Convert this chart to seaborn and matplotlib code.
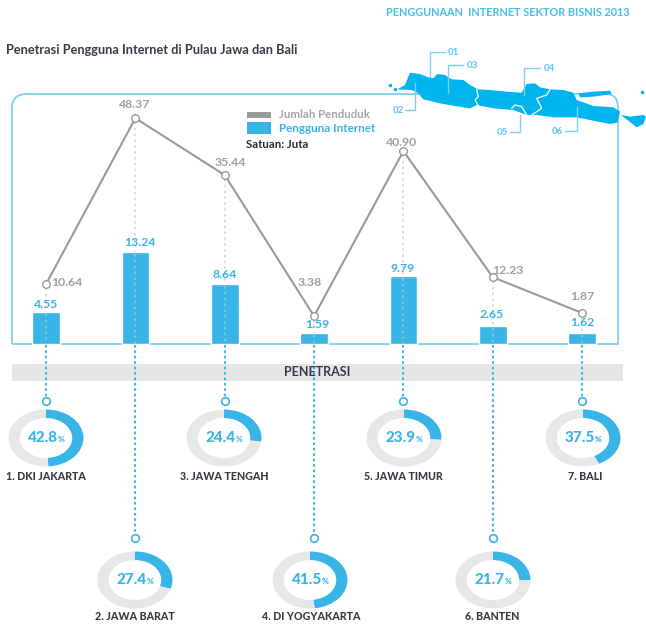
import numpy as np
import pandas as pd
import matplotlib.pyplot as plt
from matplotlib.patches import PathPatch, Polygon, Rectangle
from matplotlib.path import Path
import seaborn as sns

# data read from the infographic
provinsi = ['1. DKI JAKARTA', '2. JAWA BARAT', '3. JAWA TENGAH', '4. DI YOGYAKARTA',
            '5. JAWA TIMUR', '6. BANTEN', '7. BALI']
pengguna = [4.55, 13.24, 8.64, 1.59, 9.79, 2.65, 1.62]
penduduk = [10.64, 48.37, 35.44, 3.38, 40.90, 12.23, 1.87]
# the Bali point sits higher in the picture than its label says
penduduk_digambar = [10.64, 48.37, 35.44, 3.38, 40.90, 12.23, 4.1]
penetrasi = [42.8, 27.4, 24.4, 41.5, 23.9, 21.7, 37.5]
# share of the ring coloured in the picture (not the same as the label)
busur = [0.49, 0.30, 0.27, 0.48, 0.26, 0.25, 0.43]
map_labels = ['01', '02', '03', '04', '05', '06']

W, H = 646, 625
BIRU = '#39b4e6'
BIRU_MUDA = '#7fd0ee'
BIRU_PETA = '#00b5ee'
ABU = '#9a9a9a'
GELAP = '#3a3a44'

sns.set_theme(style='white')
plt.rcParams['font.family'] = ['Lato', 'DejaVu Sans']

fig = plt.figure(figsize=(W / 100, H / 100), dpi=100)


def full_axes(zorder):
    a = fig.add_axes([0, 0, 1, 1], zorder=zorder)
    a.set_axis_off()
    return a


def px_axes(zorder):
    a = full_axes(zorder)
    a.set_xlim(0, W)
    a.set_ylim(H, 0)
    return a


X0, DX = 46, 89.35  # pixel x of first category, spacing
x_px = [X0 + DX * i for i in range(7)]
xlim_cat = (-X0 / DX, (W - X0) / DX)

back = px_axes(0)
front = px_axes(5)

# frame (square at the bottom, rounded at the top) and band
kotak = Path([(12, 344), (12, 108), (12, 94), (27, 94), (606, 94), (618, 94), (618, 108),
              (618, 344), (12, 344)],
             [Path.MOVETO, Path.LINETO, Path.CURVE3, Path.CURVE3, Path.LINETO, Path.CURVE3,
              Path.CURVE3, Path.LINETO, Path.LINETO])
back.add_patch(PathPatch(kotak, fc='none', ec=BIRU_MUDA, lw=1.3))
back.add_patch(Rectangle((12, 364), 611, 17, fc='#e6e6e6', ec='none'))

# bars
ax_bar = full_axes(1)
df = pd.DataFrame({'provinsi': provinsi, 'pengguna': pengguna})
sns.barplot(data=df, x='provinsi', y='pengguna', color=BIRU, saturation=1, width=0.31, ax=ax_bar)
ax_bar.set_xlim(*xlim_cat)
ax_bar.set_ylim((344 - H) / 6.95, 344 / 6.95)
ax_bar.set_axis_off()

# population line
ax_line = full_axes(2)
sns.lineplot(x=range(7), y=penduduk_digambar, color=ABU, lw=1.5, marker='o', ms=5.5, mfc='white',
             mec=ABU, mew=1, ax=ax_line, legend=False)
ax_line.set_xlim(*xlim_cat)
ax_line.set_ylim((331 - H) / 4.4, 331 / 4.4)
ax_line.set_axis_off()

# dotted guides
top_px = [331 - v * 4.4 for v in penduduk_digambar]
bar_top_px = [344 - v * 6.95 for v in pengguna]
row_circle = [400.5, 538, 400.5, 538, 400.5, 538, 400.5]
for x, t, b, c in zip(x_px, top_px, bar_top_px, row_circle):
    back.plot([x, x], [t + 4, b], color='#d6d6d6', lw=1.2, ls=(0, (1.5, 2)))
    front.plot([x, x], [b + 2, 344], color='#8fc4dd', lw=1.2, ls=(0, (1.5, 2)))
    front.plot([x, x], [345, c - 3], color=BIRU, lw=1.5, ls=(0, (1.2, 1.4)))
    front.plot([x], [c], marker='o', ms=5.5, mfc='white', mec=BIRU, mew=1.2)

# value labels
gray_pos = [(67, 282), (135, 105), (230, 163), (310, 282), (402, 143), (508, 271), (582, 297)]
blue_pos = [(46, 304), (140, 243), (225, 274), (317, 324), (403, 268), (492, 315), (582, 323)]
for v, p in zip(penduduk, gray_pos):
    front.text(p[0], p[1], f'{v:.2f}', color='#a0a0a0', fontsize=8.8, fontweight='bold',
               ha='center', va='center')
for v, p in zip(pengguna, blue_pos):
    front.text(p[0], p[1], f'{v:.2f}', color=BIRU, fontsize=8.8, fontweight='bold',
               ha='center', va='center')

# legend
front.add_patch(Rectangle((247, 112), 24, 5.5, fc=ABU, ec='none'))
front.add_patch(Rectangle((247, 122), 24, 12, fc=BIRU, ec='none'))
front.text(279, 114.5, 'Jumlah Penduduk', color='#a5a5a5', fontsize=8.3, fontweight='bold', va='center')
front.text(279, 128.5, 'Pengguna Internet', color=BIRU, fontsize=8.4, fontweight='bold', va='center')
front.text(246, 145, 'Satuan: Juta', color='#2b2b33', fontsize=8.2, fontweight='bold', va='center')

# titles
front.text(6, 50, 'Penetrasi Pengguna Internet di Pulau Jawa dan Bali', color=GELAP,
           fontsize=9.2, fontweight='bold', va='center')
front.text(630, 12, 'PENGGUNAAN  INTERNET SEKTOR BISNIS 2013', color='#45bdec',
           fontsize=7.85, fontweight='bold', va='center', ha='right')
front.text(317.5, 372, 'PENETRASI', color=GELAP, fontsize=9, fontweight='bold',
           ha='center', va='center')


def peta(pts):
    return [(380 + x / 3, y / 3) for x, y in pts]


jawa = [(52, 268), (75, 255), (90, 218), (120, 222), (145, 232), (160, 235), (172, 222), (195, 225),
        (215, 238), (250, 240), (270, 255), (295, 268), (330, 270), (380, 275), (425, 278), (440, 252),
        (465, 250), (480, 262), (510, 268), (550, 270), (580, 278), (590, 300), (640, 318), (700, 322),
        (720, 335), (712, 368), (690, 372), (640, 362), (590, 352), (520, 352), (470, 345), (440, 345),
        (400, 330), (340, 325), (290, 315), (270, 325), (225, 318), (180, 310), (130, 298), (115, 280),
        (95, 270)]
madura = [(595, 280), (640, 275), (690, 272), (695, 282), (640, 290), (600, 292)]
bali = [(722, 345), (750, 350), (790, 345), (798, 350), (790, 372), (770, 382), (745, 362)]
for poly in (jawa, madura, bali):
    front.add_patch(Polygon(peta(poly), closed=True, fc=BIRU_PETA, ec='none'))
for pulau in [(30, 255), (45, 268), (785, 275)]:
    front.plot(*zip(*peta([pulau])), marker='o', ms=1.5, color=BIRU_PETA)
for batas in ([(290, 268), (295, 290), (285, 300), (295, 318)],
              [(510, 268), (500, 285), (470, 295), (485, 325), (455, 345)],
              [(395, 325), (405, 315), (425, 320), (440, 345)]):
    front.plot(*zip(*peta(batas)), color='white', lw=0.9)

leaders = {'01': [(150, 232), (150, 155), (195, 155)], '03': [(205, 278), (205, 195), (250, 195)],
           '04': [(432, 285), (432, 203), (480, 203)], '02': [(105, 250), (105, 330), (75, 330)],
           '05': [(420, 345), (420, 395), (390, 395)], '06': [(590, 320), (590, 393), (555, 393)]}
label_xy = {'01': (219, 157), '03': (278, 197), '04': (507, 205), '02': (55, 332),
            '05': (368, 397), '06': (532, 395)}
for k in map_labels:
    front.plot(*zip(*peta(leaders[k])), color=BIRU_MUDA, lw=1)
    lx, ly = peta([label_xy[k]])[0]
    front.text(lx, ly, k, color='#5cc6f0', fontsize=7, fontweight='bold', ha='center', va='center')

# penetration rings
ring_cx = [46, 135, 224, 310, 404, 493, 583]
ring_cy = [438, 580, 438, 580, 438, 580, 438]
label_y = [476, 617, 476, 617, 476, 617, 476]
label_x = [46, 135, 224, 311, 403, 492, 585]
for name, val, arc, cx, cy, ly, lx in zip(provinsi, penetrasi, busur, ring_cx, ring_cy, label_y, label_x):
    a = fig.add_axes([(cx - 37.5) / W, 1 - (cy + 28.5) / H, 75 / W, 57 / H], zorder=4)
    a.pie([arc, 1 - arc], colors=[BIRU, '#e6e7e8'], startangle=90, counterclock=False, radius=1,
          wedgeprops={'width': 0.3, 'linewidth': 0})
    a.set_aspect('auto')
    a.set_xlim(-1, 1)
    a.set_ylim(-1, 1)
    front.text(cx + 12, cy, f'{val}', color=BIRU, fontsize=11, fontweight='black', ha='right', va='center')
    front.text(cx + 12, cy + 1, '%', color=BIRU, fontsize=6, fontweight='black', ha='left', va='center')
    front.text(lx, ly, name, color=GELAP, fontsize=7.7, fontweight='black', ha='center', va='center')

fig.savefig('out.png', dpi=100)
